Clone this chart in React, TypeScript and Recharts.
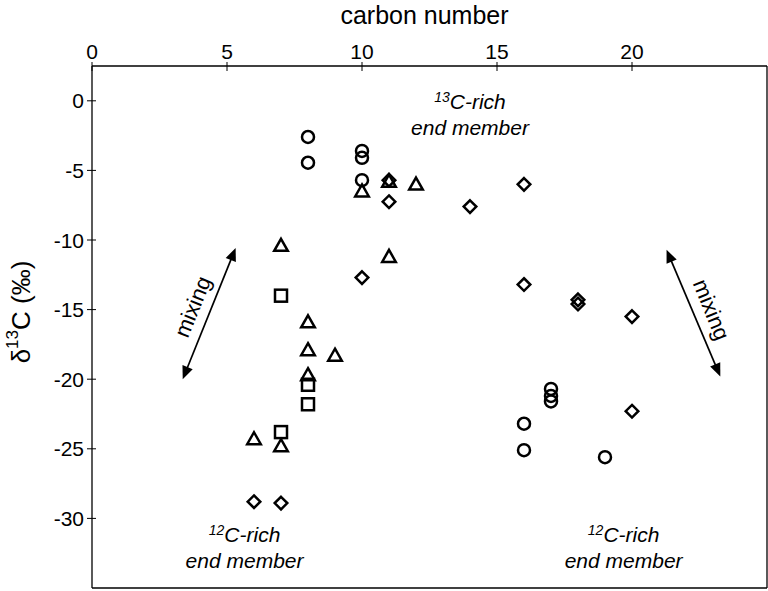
import React from "react";
import { ScatterChart, Scatter, XAxis, YAxis, ReferenceLine, ReferenceDot } from "recharts";

const xTicks = [0, 5, 10, 15, 20];
const yTicks = [0, -5, -10, -15, -20, -25, -30];

const circleX = [8, 8, 10, 10, 10, 17, 17, 17, 16, 16, 19];
const circleY = [-2.6, -4.45, -3.6, -4.1, -5.7, -20.7, -21.2, -21.6, -23.2, -25.1, -25.6];

const triangleX = [7, 10, 11, 12, 11, 8, 8, 9, 8, 6, 7];
const triangleY = [-10.4, -6.5, -5.8, -6.0, -11.2, -15.9, -17.9, -18.3, -19.7, -24.3, -24.8];

const squareX = [7, 8, 8, 7];
const squareY = [-14.0, -20.4, -21.8, -23.8];

const diamondX = [11, 11, 14, 10, 16, 16, 18, 18, 20, 20, 6, 7];
const diamondY = [-5.7, -7.25, -7.6, -12.7, -6.0, -13.2, -14.3, -14.6, -15.5, -22.3, -28.8, -28.9];

const toPts = (xs: number[], ys: number[]) => xs.map((x, i) => ({ x, y: ys[i] }));
const circles = toPts(circleX, circleY);
const triangles = toPts(triangleX, triangleY);
const squares = toPts(squareX, squareY);
const diamonds = toPts(diamondX, diamondY);

const FONT = "'Liberation Sans', Arial, sans-serif";
const SW = 2.5;

const CircleShape = (p: any) => (
  <circle cx={p.cx} cy={p.cy} r={6} fill="none" stroke="#000" strokeWidth={SW} />
);
const TriangleShape = (p: any) => (
  <polygon
    points={`${p.cx},${p.cy - 6.8} ${p.cx + 6.8},${p.cy + 5.2} ${p.cx - 6.8},${p.cy + 5.2}`}
    fill="none"
    stroke="#000"
    strokeWidth={SW}
  />
);
const SquareShape = (p: any) => (
  <rect x={p.cx - 6} y={p.cy - 6} width={12} height={12} fill="none" stroke="#000" strokeWidth={SW} />
);
const DiamondShape = (p: any) => (
  <polygon
    points={`${p.cx},${p.cy - 6.3} ${p.cx + 6.3},${p.cy} ${p.cx},${p.cy + 6.3} ${p.cx - 6.3},${p.cy}`}
    fill="none"
    stroke="#000"
    strokeWidth={SW}
  />
);

const XTick = (p: any) => {
  const { x, y, payload } = p;
  const axisY = y + 8;
  return (
    <g>
      <line x1={x} x2={x} y1={axisY - 4} y2={axisY + 5} stroke="#000" strokeWidth={1} />
      <text x={x} y={axisY - 7} textAnchor="middle" fontFamily={FONT} fontSize={21} fill="#000">
        {payload.value}
      </text>
    </g>
  );
};

const YTick = (p: any) => {
  const { x, y, payload } = p;
  const axisX = x + 8;
  return (
    <g>
      <line x1={axisX - 5} x2={axisX + 4} y1={y} y2={y} stroke="#000" strokeWidth={1} />
      <text x={axisX - 8} y={y + 7.5} textAnchor="end" fontFamily={FONT} fontSize={21} fill="#000">
        {payload.value}
      </text>
    </g>
  );
};

const Arrow = (p: any) => {
  const { x1, y1, x2, y2 } = p;
  const dx = x2 - x1;
  const dy = y2 - y1;
  const len = Math.sqrt(dx * dx + dy * dy);
  const ux = dx / len;
  const uy = dy / len;
  const hl = 13;
  const hw = 5.5;
  const head = (tx: number, ty: number, dirx: number, diry: number) => {
    const bx = tx - dirx * hl;
    const by = ty - diry * hl;
    return `${tx},${ty} ${bx - diry * hw},${by + dirx * hw} ${bx + diry * hw},${by - dirx * hw}`;
  };
  return (
    <g>
      <line x1={x1 + ux * 8} y1={y1 + uy * 8} x2={x2 - ux * 8} y2={y2 - uy * 8} stroke="#000" strokeWidth={1.7} />
      <polygon points={head(x2, y2, ux, uy)} fill="#000" />
      <polygon points={head(x1, y1, -ux, -uy)} fill="#000" />
    </g>
  );
};

const RichLabel = (sup: string) => (p: any) => (
  <g>
    <text x={p.cx} y={p.cy} textAnchor="middle" fontFamily={FONT} fontSize={21} fontStyle="italic" fill="#000">
      <tspan fontSize={14} dy={-7}>{sup}</tspan>
      <tspan dy={7}>C-rich</tspan>
    </text>
    <text x={p.cx} y={p.cy + 26} textAnchor="middle" fontFamily={FONT} fontSize={21} fontStyle="italic" fill="#000">
      end member
    </text>
  </g>
);

const MixingLabel = (angle: number) => (p: any) => (
  <text
    x={p.cx}
    y={p.cy}
    textAnchor="middle"
    dominantBaseline="central"
    fontFamily={FONT}
    fontSize={22}
    fill="#000"
    transform={`rotate(${angle} ${p.cx} ${p.cy})`}
  >
    mixing
  </text>
);

const YLabel = () => {
  const cx = 21;
  const cy = 312;
  return (
    <text
      x={cx}
      y={cy}
      textAnchor="middle"
      dominantBaseline="central"
      fontFamily={FONT}
      fontSize={26}
      fill="#000"
      transform={`rotate(-90 ${cx} ${cy})`}
    >
      δ<tspan fontSize={17} dy={-9}>13</tspan>
      <tspan dy={9}>C (‰)</tspan>
    </text>
  );
};

const XLabel = (p: any) => {
  const vb = p.viewBox;
  return (
    <text x={vb.x + vb.width / 2 - 5} y={24} textAnchor="middle" fontFamily={FONT} fontSize={25} fill="#000">
      carbon number
    </text>
  );
};

export default function App() {
  return (
    <div style={{ position: "absolute", left: 0, top: 0, width: 768, height: 591, overflow: "hidden", background: "#fff" }}>
      <ScatterChart width={771} height={591} margin={{ top: 0, right: 4, bottom: 3, left: 0 }}>
        <XAxis
          type="number"
          dataKey="x"
          orientation="top"
          domain={[0, 25]}
          ticks={xTicks}
          height={66}
          tickLine={false}
          tickSize={4}
          tickMargin={4}
          tick={<XTick />}
          axisLine={{ stroke: "#000", strokeWidth: 1.3 }}
          label={<XLabel />}
          allowDataOverflow
        />
        <YAxis
          type="number"
          dataKey="y"
          domain={[-35, 2.5]}
          ticks={yTicks}
          width={92}
          tickLine={false}
          tickSize={4}
          tickMargin={4}
          tick={<YTick />}
          axisLine={{ stroke: "#000", strokeWidth: 1.3 }}
          label={<YLabel />}
          allowDataOverflow
        />
        <ReferenceLine x={25} stroke="#000" strokeWidth={1.3} ifOverflow="visible" />
        <ReferenceLine y={-35} stroke="#000" strokeWidth={1.3} ifOverflow="visible" />
        <Scatter data={circles} shape={CircleShape} isAnimationActive={false} />
        <Scatter data={triangles} shape={TriangleShape} isAnimationActive={false} />
        <Scatter data={squares} shape={SquareShape} isAnimationActive={false} />
        <Scatter data={diamonds} shape={DiamondShape} isAnimationActive={false} />
        <ReferenceLine segment={[{ x: 3.36, y: -20.0 }, { x: 5.32, y: -10.57 }]} shape={Arrow} ifOverflow="visible" />
        <ReferenceLine segment={[{ x: 21.28, y: -10.7 }, { x: 23.27, y: -19.8 }]} shape={Arrow} ifOverflow="visible" />
        <ReferenceDot x={3.73} y={-14.8} r={0} shape={MixingLabel(-68)} ifOverflow="visible" />
        <ReferenceDot x={22.94} y={-15.0} r={0} shape={MixingLabel(68)} ifOverflow="visible" />
        <ReferenceDot x={14.0} y={-0.6} r={0} shape={RichLabel("13")} ifOverflow="visible" />
        <ReferenceDot x={5.65} y={-31.7} r={0} shape={RichLabel("12")} ifOverflow="visible" />
        <ReferenceDot x={19.69} y={-31.7} r={0} shape={RichLabel("12")} ifOverflow="visible" />
      </ScatterChart>
    </div>
  );
}
